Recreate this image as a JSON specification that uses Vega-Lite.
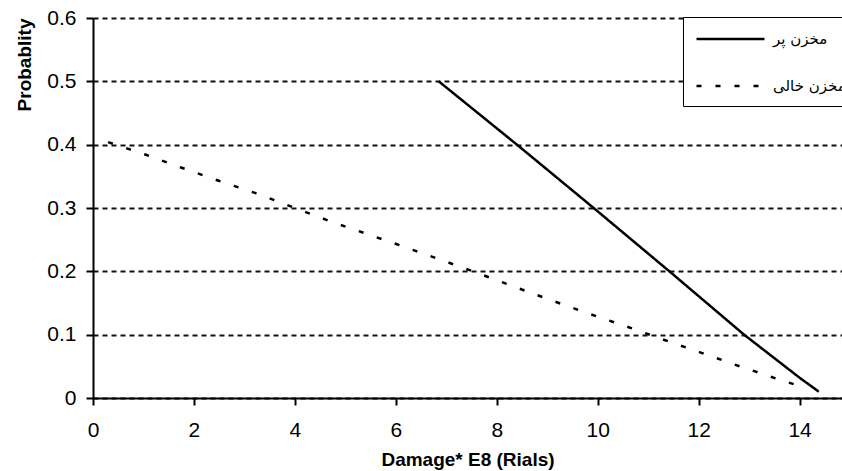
{
  "$schema": "https://vega.github.io/schema/vega-lite/v6.json",
  "width": 749,
  "height": 380,
  "autosize": {"type": "none"},
  "padding": {"left": 93, "top": 18, "right": 0, "bottom": 73},
  "background": "white",
  "view": {"stroke": null},
  "data": {
    "values": [
      {"series": "مخزن پر", "x": 6.85, "y": 0.5},
      {"series": "مخزن پر", "x": 8.4, "y": 0.4},
      {"series": "مخزن پر", "x": 9.92, "y": 0.3},
      {"series": "مخزن پر", "x": 11.42, "y": 0.2},
      {"series": "مخزن پر", "x": 12.9, "y": 0.1},
      {"series": "مخزن پر", "x": 14.0, "y": 0.032},
      {"series": "مخزن پر", "x": 14.38, "y": 0.01},
      {"series": "مخزن خالی", "x": 0.3, "y": 0.404},
      {"series": "مخزن خالی", "x": 1.05, "y": 0.384},
      {"series": "مخزن خالی", "x": 1.74, "y": 0.364},
      {"series": "مخزن خالی", "x": 2.49, "y": 0.343},
      {"series": "مخزن خالی", "x": 3.24, "y": 0.323},
      {"series": "مخزن خالی", "x": 3.97, "y": 0.301},
      {"series": "مخزن خالی", "x": 4.7, "y": 0.279},
      {"series": "مخزن خالی", "x": 5.43, "y": 0.259},
      {"series": "مخزن خالی", "x": 6.19, "y": 0.238},
      {"series": "مخزن خالی", "x": 6.9, "y": 0.218},
      {"series": "مخزن خالی", "x": 7.63, "y": 0.197},
      {"series": "مخزن خالی", "x": 8.37, "y": 0.175},
      {"series": "مخزن خالی", "x": 9.09, "y": 0.154},
      {"series": "مخزن خالی", "x": 9.83, "y": 0.133},
      {"series": "مخزن خالی", "x": 10.57, "y": 0.113},
      {"series": "مخزن خالی", "x": 11.31, "y": 0.092},
      {"series": "مخزن خالی", "x": 12.03, "y": 0.072},
      {"series": "مخزن خالی", "x": 12.78, "y": 0.051},
      {"series": "مخزن خالی", "x": 13.56, "y": 0.03},
      {"series": "مخزن خالی", "x": 13.92, "y": 0.021}
    ]
  },
  "mark": {"type": "line", "color": "black", "strokeWidth": 2.5, "clip": false},
  "encoding": {
    "x": {
      "field": "x",
      "type": "quantitative",
      "scale": {"domain": [0, 14.84], "nice": false, "zero": false},
      "axis": {
        "values": [0, 2, 4, 6, 8, 10, 12, 14],
        "title": "Damage* E8 (Rials)",
        "titleFont": "Liberation Sans",
        "titleFontSize": 19,
        "titleFontWeight": "bold",
        "titleColor": "black",
        "titlePadding": 10,
        "titleAnchor": "middle",
        "labelFont": "Liberation Sans",
        "labelFontSize": 21,
        "labelColor": "black",
        "labelPadding": 14,
        "labelFlush": false,
        "tickColor": "black",
        "tickWidth": 2,
        "tickSize": 7,
        "domainColor": "black",
        "domainWidth": 2,
        "grid": false
      }
    },
    "y": {
      "field": "y",
      "type": "quantitative",
      "scale": {"domain": [0, 0.6], "nice": false},
      "axis": {
        "values": [0, 0.1, 0.2, 0.3, 0.4, 0.5, 0.6],
        "format": ".1~f",
        "title": "Probablity",
        "titleFont": "Liberation Sans",
        "titleFontSize": 19,
        "titleFontWeight": "bold",
        "titleColor": "black",
        "titleAnchor": "end",
        "titlePadding": 12,
        "labelFont": "Liberation Sans",
        "labelFontSize": 21,
        "labelColor": "black",
        "labelPadding": 10,
        "labelFlush": false,
        "tickColor": "black",
        "tickWidth": 2,
        "tickSize": 7,
        "domainColor": "black",
        "domainWidth": 2,
        "grid": true,
        "gridColor": "#111111",
        "gridWidth": 2,
        "gridDash": [5, 4],
        "gridOpacity": 1
      }
    },
    "strokeDash": {
      "field": "series",
      "type": "nominal",
      "scale": {"domain": ["مخزن پر", "مخزن خالی"], "range": [[1, 0], [5, 14]]},
      "legend": {
        "orient": "none",
        "legendX": 590,
        "legendY": -1,
        "title": null,
        "direction": "vertical",
        "padding": 12,
        "strokeColor": "black",
        "fillColor": "white",
        "symbolType": "M-1,0H7",
        "symbolSize": 289,
        "symbolStrokeWidth": 2.5,
        "symbolStrokeColor": "black",
        "labelFont": "DejaVu Sans",
        "labelFontSize": 15,
        "labelColor": "black",
        "labelOffset": 58,
        "labelLimit": 200,
        "rowPadding": 29,
        "zindex": 1
      }
    }
  }
}
